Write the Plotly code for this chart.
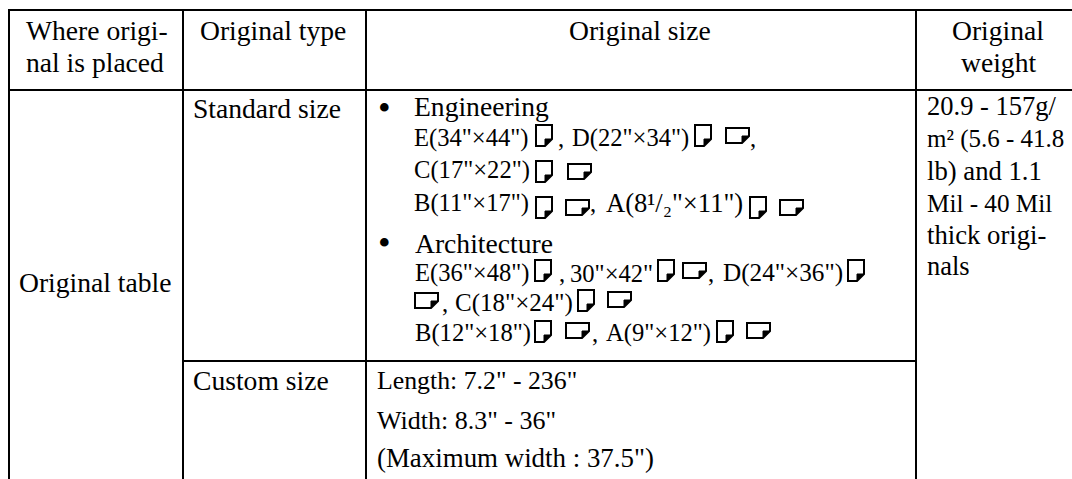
import plotly.graph_objects as go

# ---- table content ----
header_place = ["Where origi-", "nal is placed"]
header_type = ["Original type"]
header_size = ["Original size"]
header_weight = ["Original", "weight"]
place_cell = ["Original table"]
type_cells = ["Standard size", "Custom size"]
bullets = ["•", "•"]
section_names = ["Engineering", "Architecture"]
eng_sizes = ['E(34"×44")', ",", 'D(22"×34")', ",", 'C(17"×22")', 'B(11"×17")', ",",
             'A(8¹/₂"×11")']
arch_sizes = ['E(36"×48")', ",", '30"×42"', ",", 'D(24"×36")', ",", 'C(18"×24")',
              'B(12"×18")', ",", 'A(9"×12")']
custom_lines = ['Length: 7.2" - 236"', 'Width: 8.3" - 36"', '(Maximum width : 37.5")']
weight_lines = ["20.9 - 157g/", "m² (5.6 - 41.8", "lb) and 1.1", "Mil - 40 Mil",
                "thick origi-", "nals"]

# ---- layout (pixels of the page) ----
W, H = 1072, 479
FONT = "Liberation Serif"
WORD = 27.6   # headings and labels
SIZE = 24.6   # the size lines
col_x = [9, 183, 366, 916]
row_y = [10, 90, 361]

place_xy = [(26, 30), (26, 62)]
type_xy = [(273, 30)]
size_xy = [(640, 30)]
weight_head_xy = [(998, 30), (998, 62)]
place_cell_xy = [(19, 282)]
type_xy_cells = [(193, 108), (193, 380)]
bullet_xy = [(384, 108), (384, 243)]
section_xy = [(414, 106), (415, 243)]
eng_xy = [(414, 138), (558, 138), (572, 138), (750, 138), (414, 170), (414, 203), (590, 203), (606, 203)]
eng_fs = [SIZE, SIZE, SIZE, SIZE, SIZE, SIZE, SIZE, 26.6]
arch_xy = [(415, 273), (559, 273), (570, 273), (708, 273), (723, 273), (442, 303), (455, 303),
           (415, 333), (592, 333), (606, 333)]
arch_fs = [SIZE, SIZE, SIZE, SIZE, 25.2, SIZE, 25, SIZE, SIZE, SIZE]
custom_xy = [(377, 380), (377, 420), (377, 458)]
custom_fs = [25.8, 26, 26.9]
weight_xy = [(927, 106), (927, 139), (927, 171), (927, 203), (927, 235), (927, 266)]
weight_fs = [26.5, 25, 26.7, 25.2, 26.7, 26.5]

# icon boxes: left, top
portrait_icons = [(536, 125), (695, 125), (536, 161), (536, 197), (750, 197),
                  (535, 260), (658, 260), (848, 260), (578, 290), (535, 321), (717, 321)]
landscape_icons = [(726, 128), (568, 164), (566, 200), (780, 200),
                   (683, 263), (415, 293), (608, 292), (566, 323), (747, 323)]
PW, PH = 16, 21
LW, LH = 23, 15
FOLD = 7
LINE = 2
PAD = 2  # annotation box padding


def note(text, xy, anchor="left", size=WORD):
    return dict(text=text, x=xy[0], y=xy[1], xref="x", yref="y", xanchor=anchor, yanchor="middle",
                xshift=-PAD if anchor == "left" else 0,
                showarrow=False, align="left", font=dict(family=FONT, size=size, color="#000000"))


def icon_shapes(x, y, w, h):
    r, b = x + w, y + h
    outline = f"M{x},{y} L{r},{y} L{r},{b-FOLD} L{r-FOLD},{b} L{x},{b} Z"
    fold = f"M{r},{b-FOLD} L{r-FOLD},{b-FOLD} L{r-FOLD},{b} Z"
    return [
        dict(type="path", path=outline, xref="x", yref="y", line=dict(color="black", width=LINE), fillcolor="white"),
        dict(type="path", path=fold, xref="x", yref="y", line=dict(color="black", width=1), fillcolor="black"),
    ]


annotations = []
for texts, xys, anchor in [
    (header_place, place_xy, "left"),
    (header_type, type_xy, "center"),
    (header_size, size_xy, "center"),
    (header_weight, weight_head_xy, "center"),
    (place_cell, place_cell_xy, "left"),
    (type_cells, type_xy_cells, "left"),
    (section_names, section_xy, "left"),
]:
    annotations += [note(t, xy, anchor) for t, xy in zip(texts, xys)]
for texts, xys, sizes in [
    (eng_sizes, eng_xy, eng_fs),
    (arch_sizes, arch_xy, arch_fs),
    (custom_lines, custom_xy, custom_fs),
    (weight_lines, weight_xy, weight_fs),
]:
    annotations += [note(t, xy, "left", s) for t, xy, s in zip(texts, xys, sizes)]
annotations += [note(t, xy, "center", 36) for t, xy in zip(bullets, bullet_xy)]

shapes = []
rule = dict(color="black", width=2)
for x0, y0, x1, y1 in [
    (col_x[0] - 1, row_y[0], W, row_y[0]),
    (col_x[0], row_y[1], W, row_y[1]),
    (col_x[1], row_y[2], col_x[3], row_y[2]),
    (col_x[0], row_y[0], col_x[0], H),
    (col_x[1], row_y[0], col_x[1], H),
    (col_x[2], row_y[0], col_x[2], H),
    (col_x[3], row_y[0], col_x[3], H),
]:
    shapes.append(dict(type="line", x0=x0, y0=y0, x1=x1, y1=y1, xref="x", yref="y", line=rule))
for x, y in portrait_icons:
    shapes += icon_shapes(x, y, PW, PH)
for x, y in landscape_icons:
    shapes += icon_shapes(x, y, LW, LH)

fig = go.Figure()
fig.update_layout(
    width=W, height=H, margin=dict(l=0, r=0, t=0, b=0), showlegend=False,
    paper_bgcolor="white", plot_bgcolor="white",
    xaxis=dict(visible=False, range=[0, W], fixedrange=True),
    yaxis=dict(visible=False, range=[H, 0], fixedrange=True),
    annotations=annotations, shapes=shapes,
)
fig.write_html("out.html", config=dict(displayModeBar=False),
               post_script="document.body.style.margin='0';document.body.style.overflow='hidden';")
